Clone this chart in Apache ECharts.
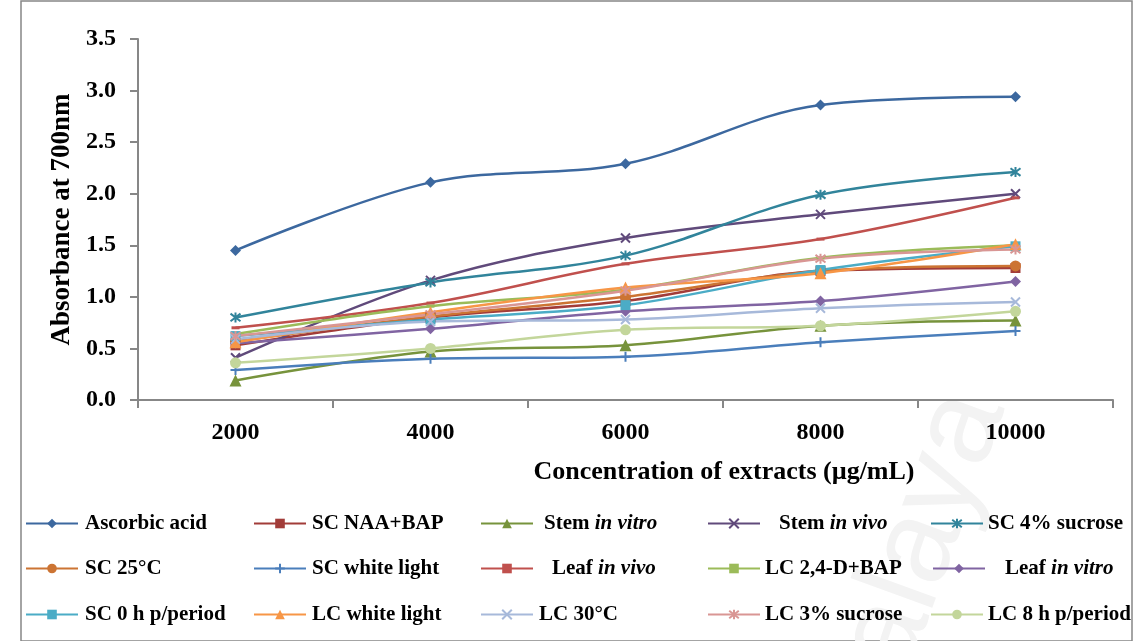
<!DOCTYPE html>
<html>
<head>
<meta charset="utf-8">
<script src="https://cdn.jsdelivr.net/npm/echarts@6/dist/echarts.min.js"></script>
<style>
  html, body { margin: 0; padding: 0; background: #fff; }
  #chart { width: 1135px; height: 641px; }
</style>
</head>
<body>
<div id="chart"></div>
<script>
// Extract concentrations (µg/mL) on the category axis
const concentrations = ['2000', '4000', '6000', '8000', '10000'];
const yTicks = [0, 0.5, 1.0, 1.5, 2.0, 2.5, 3.0, 3.5];

// Absorbance at 700 nm for each sample
const ascorbicAcid   = [1.45, 2.11, 2.29, 2.86, 2.94];
const scNaaBap       = [0.53, 0.80, 0.96, 1.25, 1.28];
const stemInVitro    = [0.19, 0.47, 0.53, 0.72, 0.77];
const stemInVivo     = [0.41, 1.16, 1.57, 1.80, 2.00];
const sc4Sucrose     = [0.80, 1.14, 1.40, 1.99, 2.21];
const sc25C          = [0.57, 0.81, 1.00, 1.25, 1.30];
const scWhiteLight   = [0.29, 0.40, 0.42, 0.56, 0.67];
const leafInVivo     = [0.70, 0.94, 1.32, 1.56, 1.96];
const lc24dBap       = [0.64, 0.91, 1.07, 1.38, 1.50];
const leafInVitro    = [0.55, 0.69, 0.86, 0.96, 1.15];
const sc0hPeriod     = [0.62, 0.78, 0.92, 1.26, 1.49];
const lcWhiteLight   = [0.56, 0.85, 1.09, 1.23, 1.51];
const lc30C          = [0.59, 0.76, 0.78, 0.89, 0.95];
const lc3Sucrose     = [0.62, 0.83, 1.06, 1.37, 1.46];
const lc8hPeriod     = [0.36, 0.50, 0.68, 0.72, 0.86];

const seriesNames = [
  'Ascorbic acid', 'SC NAA+BAP', 'Stem in vitro', 'Stem in vivo', 'SC 4% sucrose',
  'SC 25°C', 'SC white light', 'Leaf in vivo', 'LC 2,4-D+BAP', 'Leaf in vitro',
  'SC 0 h p/period', 'LC white light', 'LC 30°C', 'LC 3% sucrose', 'LC 8 h p/period'
];
const seriesValues = [
  ascorbicAcid, scNaaBap, stemInVitro, stemInVivo, sc4Sucrose,
  sc25C, scWhiteLight, leafInVivo, lc24dBap, leafInVitro,
  sc0hPeriod, lcWhiteLight, lc30C, lc3Sucrose, lc8hPeriod
];

// Marker shapes
const CROSS = 'path://M0,0L10,10M10,0L0,10';
const STAR = 'path://M0,0L10,10M10,0L0,10M5,-1.5L5,11.5';
const PLUS = 'path://M5,0L5,10M0,5L10,5';
const DASH = 'rect';

const styles = [
  { color: '#3C689F', symbol: 'diamond',  size: 11 },
  { color: '#A23C39', symbol: 'rect',     size: 10 },
  { color: '#77933C', symbol: 'triangle', size: 12 },
  { color: '#604A7B', symbol: CROSS,      size: 9, stroke: true },
  { color: '#31849B', symbol: STAR,       size: 10, stroke: true },
  { color: '#CC7433', symbol: 'circle',   size: 11 },
  { color: '#4A7EBB', symbol: PLUS,       size: 10, stroke: true },
  { color: '#C0504D', symbol: DASH,       size: [8, 3] },
  { color: '#9BBB59', symbol: DASH,       size: [8, 3] },
  { color: '#8064A2', symbol: 'diamond',  size: 11 },
  { color: '#4BACC6', symbol: 'rect',     size: 10 },
  { color: '#F79646', symbol: 'triangle', size: 12 },
  { color: '#A7B9DA', symbol: CROSS,      size: 9, stroke: true },
  { color: '#D99694', symbol: STAR,       size: 10, stroke: true },
  { color: '#C3D69B', symbol: 'circle',   size: 11 }
];

// Legend grid: 3 rows x 5 columns, [iconLeft, rowCentre, textGap]
const legendLayout = [
  [25, 526, 2], [253, 526, 1], [480, 526, 6],  [707, 526, 14], [930, 526, 0],
  [25, 571, 2], [253, 571, 1], [480, 571, 14], [707, 571, 0],  [932, 571, 15],
  [25, 617, 2], [253, 617, 1], [480, 617, 1],  [707, 617, 0],  [930, 617, 0]
];

const FONT = '"Liberation Serif", "Times New Roman", serif';
const AXIS_GRAY = '#878787';

const series = seriesNames.map((name, i) => {
  const s = styles[i];
  return {
    name,
    type: 'line',
    data: seriesValues[i],
    smooth: 0.35,
    symbol: s.symbol,
    symbolSize: s.size,
    showAllSymbol: true,
    lineStyle: { color: s.color, width: 2.5 },
    itemStyle: s.stroke
      ? { color: s.color, borderColor: s.color, borderWidth: 2 }
      : { color: s.color, borderWidth: 0 },
    emphasis: { disabled: true }
  };
});

const legends = seriesNames.map((name, i) => {
  const [left, centre, gap] = legendLayout[i];
  return {
    data: [name],
    left,
    top: centre - 13,
    padding: 0,
    itemWidth: 52,
    itemHeight: 12,
    itemGap: 0,
    selectedMode: false,
    formatter: n => '{s|}' + n.replace(/(in vi(?:tro|vo))/, '{i|$1}'),
    textStyle: {
      fontFamily: FONT, fontSize: 21, fontWeight: 'bold', color: '#000',
      rich: {
        s: { width: gap },
        i: { fontFamily: FONT, fontSize: 21, fontWeight: 'bold', fontStyle: 'italic', color: '#000' }
      }
    }
  };
});

const chart = echarts.init(document.getElementById('chart'), null, { renderer: 'canvas' });
chart.setOption({
  animation: false,
  backgroundColor: '#fff',
  grid: { left: 138, right: 22, top: 39, bottom: 241, containLabel: false },
  legend: legends,
  graphic: [
    {
      type: 'rect', z: -10, silent: true,
      shape: { x: 21, y: 1, width: 1111, height: 640 },
      style: { fill: 'none', stroke: AXIS_GRAY, lineWidth: 1.5 }
    },
    {
      type: 'text', z: -5, silent: true,
      x: 785, y: 740, rotation: 70 * Math.PI / 180,
      style: { text: 'Malaya', fill: '#F3F3F3', font: '120px "Liberation Sans", Arial, sans-serif' }
    }
  ],
  xAxis: {
    type: 'category',
    data: concentrations,
    boundaryGap: true,
    axisLine: { lineStyle: { color: AXIS_GRAY, width: 2 } },
    axisTick: { show: true, length: 8, alignWithLabel: false, lineStyle: { color: AXIS_GRAY, width: 2 } },
    axisLabel: { margin: 21, fontFamily: FONT, fontSize: 24, fontWeight: 'bold', color: '#000' },
    splitLine: { show: false },
    name: 'Concentration of extracts (µg/mL)',
    nameLocation: 'middle',
    nameGap: 59,
    nameTextStyle: { fontFamily: FONT, fontSize: 26, fontWeight: 'bold', color: '#000', padding: [0, 0, 0, 197] }
  },
  yAxis: {
    type: 'value',
    min: 0, max: 3.5, interval: 0.5,
    axisLine: { show: true, lineStyle: { color: AXIS_GRAY, width: 2 } },
    axisTick: { show: true, length: 8, lineStyle: { color: AXIS_GRAY, width: 2 } },
    axisLabel: {
      margin: 22, fontFamily: FONT, fontSize: 24, fontWeight: 'bold', color: '#000',
      formatter: v => yTicks.includes(+v.toFixed(1)) ? v.toFixed(1) : ''
    },
    splitLine: { show: false },
    name: 'Absorbance at 700nm',
    nameLocation: 'middle',
    nameRotate: 90,
    nameGap: 62,
    nameTextStyle: { fontFamily: FONT, fontSize: 27, fontWeight: 'bold', color: '#000' }
  },
  series
});
</script>
</body>
</html>
